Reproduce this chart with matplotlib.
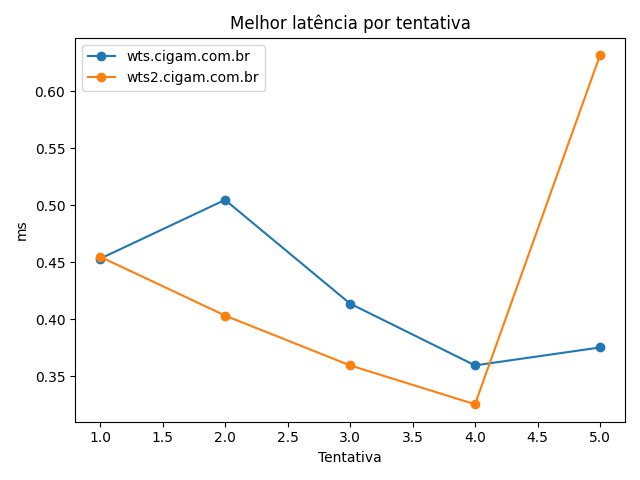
import matplotlib
matplotlib.use("Agg")
import matplotlib.pyplot as plt

tentativas = [1, 2, 3, 4, 5]
wts = [0.4531, 0.5047, 0.4138, 0.3596, 0.3753]
wts2 = [0.4549, 0.4033, 0.3596, 0.3255, 0.6315]

fig = plt.figure(figsize=(6.4, 4.8), dpi=100)
plt.plot(tentativas, wts, marker='o', label='wts.cigam.com.br')
plt.plot(tentativas, wts2, marker='o', label='wts2.cigam.com.br')
plt.title('Melhor latência por tentativa')
plt.xlabel('Tentativa')
plt.ylabel('ms')
plt.legend()
plt.tight_layout()
plt.savefig('out.png')
